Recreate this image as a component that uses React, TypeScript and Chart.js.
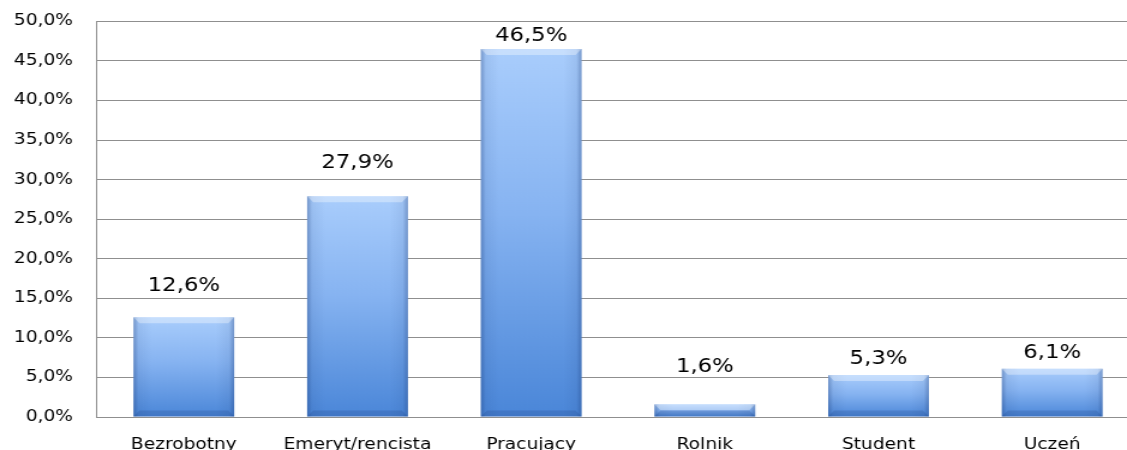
import React, { useEffect, useRef } from 'react';
import { Chart, registerables } from 'chart.js';

Chart.register(...registerables);

const categories = ['Bezrobotny', 'Emeryt/rencista', 'Pracujący', 'Rolnik', 'Student', 'Uczeń'];
const values = [12.6, 27.9, 46.5, 1.6, 5.3, 6.1];
const valueLabels = ['12,6%', '27,9%', '46,5%', '1,6%', '5,3%', '6,1%'];
const labelGaps = [33, 35, 15, 39, 18, 18];
const yMin = 0;
const yMax = 50;
const yStep = 5;

const FONT = '"DejaVu Sans", sans-serif';
// horizontal stretch of the whole drawing (the reference text is widened)
const STRETCH = 1.2;
const DISPLAY_W = 1139;
const SHIFT_UP = 8;
const DISPLAY_H = 450 + SHIFT_UP;

const barDecor = {
  id: 'barDecor',
  afterDatasetsDraw(chart: any) {
    const ctx = chart.ctx;
    const meta = chart.getDatasetMeta(0);
    meta.data.forEach((el: any, i: number) => {
      const { x, y, base, width } = el.getProps(['x', 'y', 'base', 'width'], true);
      const left = x - width / 2;
      const h = base - y;
      ctx.save();
      const hg = ctx.createLinearGradient(left, 0, left + width, 0);
      hg.addColorStop(0, 'rgba(20,50,110,0.35)');
      hg.addColorStop(0.05, 'rgba(20,50,110,0.08)');
      hg.addColorStop(0.18, 'rgba(20,50,110,0)');
      hg.addColorStop(0.82, 'rgba(20,50,110,0)');
      hg.addColorStop(0.95, 'rgba(20,50,110,0.08)');
      hg.addColorStop(1, 'rgba(20,50,110,0.35)');
      ctx.fillStyle = hg;
      ctx.fillRect(left, y, width, h);
      const bevY = Math.min(6, h / 2);
      const bevX = bevY / STRETCH;
      ctx.beginPath();
      ctx.moveTo(left, y);
      ctx.lineTo(left + width, y);
      ctx.lineTo(left + width - bevX, y + bevY);
      ctx.lineTo(left + bevX, y + bevY);
      ctx.closePath();
      ctx.fillStyle = 'rgba(255,255,255,0.35)';
      ctx.fill();
      ctx.beginPath();
      ctx.moveTo(left, base);
      ctx.lineTo(left + width, base);
      ctx.lineTo(left + width - bevX, base - bevY);
      ctx.lineTo(left + bevX, base - bevY);
      ctx.closePath();
      ctx.fillStyle = 'rgba(20,50,110,0.18)';
      ctx.fill();
      ctx.restore();

      ctx.save();
      ctx.font = '19px ' + FONT;
      ctx.fillStyle = '#000';
      ctx.textAlign = 'center';
      ctx.textBaseline = 'alphabetic';
      ctx.fillText(valueLabels[i], x, y - labelGaps[i] + 7);
      ctx.restore();
    });
  },
};

export default function App() {
  const ref = useRef<HTMLCanvasElement | null>(null);

  useEffect(() => {
    if (!ref.current) return;
    const chart = new Chart(ref.current, {
      type: 'bar',
      data: {
        labels: categories,
        datasets: [
          {
            data: values,
            backgroundColor: (c: any) => {
              const ch = c.chart;
              const sc = ch.scales;
              if (!ch.chartArea || !sc || !sc.y) return '#7aa8ea';
              const v = typeof c.raw === 'number' ? c.raw : 0;
              const top = sc.y.getPixelForValue(v);
              const base = sc.y.getPixelForValue(0);
              if (!isFinite(top) || !isFinite(base) || top === base) return '#7aa8ea';
              const g = ch.ctx.createLinearGradient(0, top, 0, base);
              g.addColorStop(0, '#a9cdfc');
              g.addColorStop(0.45, '#86b3f1');
              g.addColorStop(1, '#4a86d8');
              return g;
            },
            borderWidth: 0,
            barPercentage: 0.58,
            categoryPercentage: 1,
          },
        ],
      },
      options: {
        responsive: false,
        animation: false,
        devicePixelRatio: 1,
        layout: { padding: { top: 0, left: 0, right: 0, bottom: 0 } },
        plugins: {
          legend: { display: false },
          tooltip: { enabled: false },
          title: { display: false },
        },
        scales: {
          x: {
            offset: true,
            grid: { display: false, drawTicks: false },
            border: { display: true, color: '#8f8f8f', width: 1 },
            ticks: {
              color: '#000',
              font: { family: FONT, size: 15.5 },
              padding: 19,
              maxRotation: 0,
              autoSkip: false,
            },
            afterFit: (s: any) => {
              s.height = 33;
            },
          },
          y: {
            min: yMin,
            max: yMax,
            grid: { color: '#8f8f8f', lineWidth: 1, drawTicks: false },
            border: { display: true, color: '#8f8f8f', width: 1 },
            ticks: {
              stepSize: yStep,
              color: '#000',
              font: { family: FONT, size: 15.5 },
              padding: 20,
              callback: (v: any) => Number(v).toFixed(1).replace('.', ',') + '%',
            },
            afterFit: (s: any) => {
              s.width = 97 / STRETCH;
            },
          },
        },
      },
      plugins: [barDecor],
    });
    return () => chart.destroy();
  }, []);

  return (
    <div
      style={{
        position: 'absolute',
        left: 0,
        top: 0,
        width: 1127,
        height: 450,
        overflow: 'hidden',
        background: '#fff',
      }}
    >
      <canvas
        ref={ref}
        width={Math.round(DISPLAY_W / STRETCH)}
        height={DISPLAY_H}
        style={{
          width: DISPLAY_W + 'px',
          height: DISPLAY_H + 'px',
          display: 'block',
          marginTop: -SHIFT_UP + 'px',
        }}
      />
    </div>
  );
}
